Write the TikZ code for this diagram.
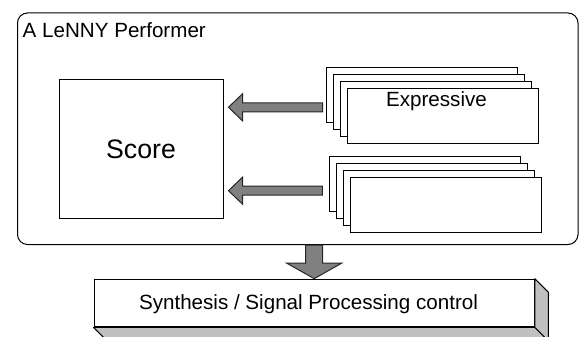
\documentclass[tikz,border=0pt]{standalone}
\usepackage{fontspec}
\setmainfont{Liberation Sans}
\usetikzlibrary{positioning,calc}

\definecolor{arrowgray}{HTML}{808080}
\definecolor{facegray}{HTML}{C0C0C0}

\tikzset{
  box/.style={draw, line width=1pt, inner sep=0pt},
  sheet/.style={box, fill=white, minimum width=191pt, minimum height=55pt},
  blockarrow/.style={draw=black!85, fill=arrowgray, line width=1pt},
  side/.style={draw, fill=facegray, line width=1pt, line join=round},
  lbl/.style={font=\fontsize{20.6}{24}\selectfont, inner sep=0pt},
}

% fat arrow pointing left: #1 tail, #2 tip
\newcommand{\fatleft}[2]{%
  \draw[blockarrow] (#2) -- ++(14,-13.5) -- ++(0,9) -- ($(#2 -| #1)+(0,-4.5)$)
    -- ++(0,9) -- ($(#2)+(14,4.5)$) -- ++(0,9) -- cycle;}
% fat arrow pointing down: #1 tail, #2 tip
\newcommand{\fatdown}[2]{%
  \draw[blockarrow] (#2) -- ++(-27.5,-15.5) -- ++(19,0) -- ($(#1)+(-8.5,0)$)
    -- ++(17,0) -- ($(#2)+(8.5,-15.5)$) -- ++(19,0) -- cycle;}

\begin{document}
\begin{tikzpicture}[x=1pt, y=-1pt]
  \useasboundingbox (0,0) rectangle (579,337);

  % Performer frame
  \node[box, rounded corners=10pt, minimum width=560.5pt, minimum height=231.5pt] (perf) at (297.75,128.75) {};
  \node[lbl, anchor=base west] (title) at (22.5,38) {A LeNNY Performer};

  % Score
  \node[box, minimum width=164pt, minimum height=138pt, font=\fontsize{26.7}{32}\selectfont] (score) at (141,149) {Score};

  % Stacked sheets
  \foreach \i in {0,...,3} {
    \node[sheet] (exp\i) at (421.5+7*\i, 95+7*\i) {};
    \node[sheet] (oth\i) at (424.8+7*\i, 183.5+7*\i) {};
  }
  \node[lbl, anchor=base] (exptext) at ($(exp3.north)+(-6,18.5)$) {Expressive};

  % Arrows into the score
  \coordinate (tipA) at ($(score.north east)!0.2!(score.south east)+(5,0)$);
  \coordinate (tipB) at ($(score.south east)!0.2!(score.north east)+(5,0)$);
  \coordinate (tailA) at ($(exp0.west)+(-3,0)$);
  \coordinate (tailB) at ($(oth0.west)+(-6.5,0)$);
  \fatleft{tailA}{tipA}
  \fatleft{tailB}{tipB}

  % Synthesis block
  \node[box, fill=white, minimum width=440.3pt, minimum height=47.7pt] (synth) at (314.2,303) {};
  \draw[side] (synth.south west) -- (synth.south east) -- ++(13.5,13.5)
    -- ($(synth.south west)+(13.5,13.5)$) -- cycle;
  \draw[side] (synth.north east) -- ++(13.5,13.5)
    -- ($(synth.south east)+(13.5,13.5)$) -- (synth.south east) -- cycle;
  \node[lbl, anchor=base] (synthtext) at ($(synth.center)+(-5.7,6.5)$) {Synthesis / Signal Processing control};

  % Down arrow
  \coordinate (tailC) at (synth.north |- perf.south);
  \fatdown{tailC}{synth.north}
\end{tikzpicture}
\end{document}
